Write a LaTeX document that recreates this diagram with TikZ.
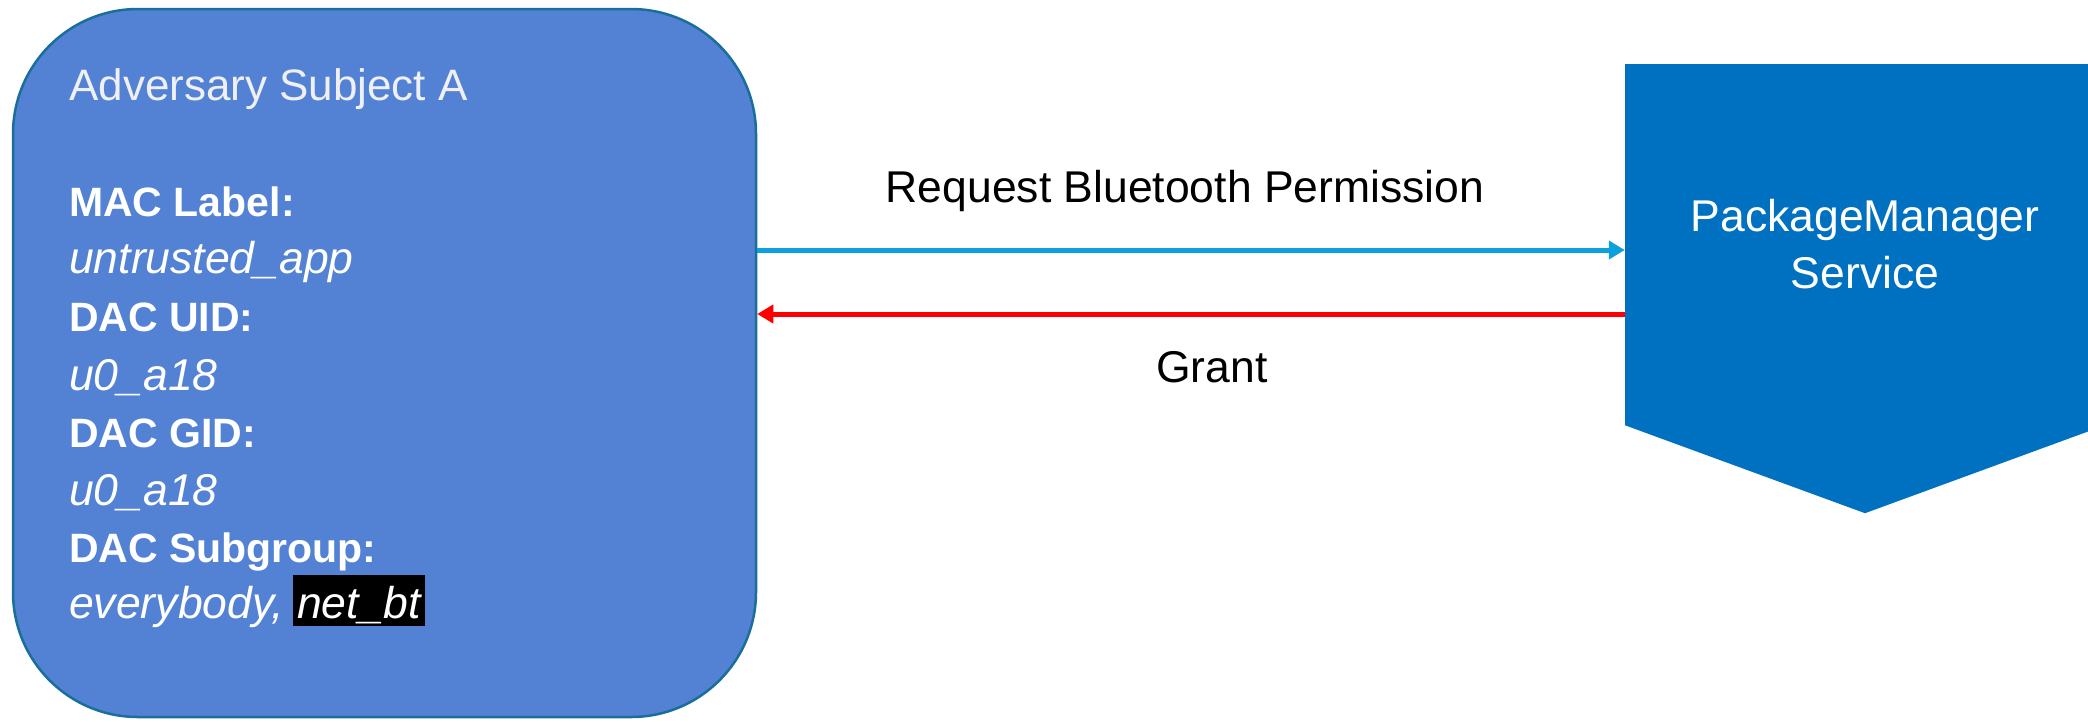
\documentclass[tikz,border=0pt]{standalone}
\usepackage{fontspec}
\setmainfont{Liberation Sans}
\usetikzlibrary{arrows.meta}
\definecolor{subjfill}{RGB}{83,130,212}
\definecolor{subjline}{RGB}{26,110,156}
\definecolor{reqblue}{RGB}{12,160,221}
\definecolor{pmblue}{RGB}{0,112,192}
\definecolor{titlegray}{RGB}{240,240,244}

\begin{document}
\begin{tikzpicture}[x=1pt,y=-1pt,
  subject/.style={draw=subjline, line width=2.5pt, fill=subjfill, rounded corners=125pt, minimum width=743pt, minimum height=708pt, inner sep=0pt},
  hdr/.style={anchor=base west, inner sep=0pt, text=white, font=\fontsize{41}{49}\selectfont\bfseries},
  val/.style={anchor=base west, inner sep=0pt, text=white, font=\fontsize{44.5}{53}\selectfont\itshape},
  msg/.style={anchor=base, font=\fontsize{44.5}{53}\selectfont},
  req/.style={reqblue, line width=5pt, -{Triangle[length=16pt,width=18pt]}},
  grant/.style={red, line width=5pt, -{Triangle[length=16pt,width=18pt]}}]
\useasboundingbox (0,0) rectangle (2088,721);
\clip (0,0) rectangle (2088,721);
\node[subject] (subj) at (384.5,363) {};
\node[val, text=titlegray, font=\fontsize{44}{53}\selectfont] (title) at (69,100) {Adversary Subject A};
\node[hdr] (mac) at (69,216) {MAC Label:};
\node[val] (macval) at (69,273) {untrusted\_app};
\node[hdr] (uid) at (69,331) {DAC UID:};
\node[val] (uidval) at (69,390) {u0\_a18};
\node[hdr] (gid) at (69,447) {DAC GID:};
\node[val] (gidval) at (69,505) {u0\_a18};
\node[hdr] (sgrp) at (69,562) {DAC Subgroup:};
\node[val] (sgrpval) at (69,618) {everybody,};
\node[val, fill=black, inner xsep=4pt, text height=43pt, text depth=8pt] (netbt) at (293,618) {net\_bt};
\node[fill=pmblue, minimum width=480pt, minimum height=361pt, text=white, align=center, font=\fontsize{44.5}{57}\selectfont] (pms) at (1865,244.5) {PackageManager\\Service};
\fill[pmblue] (pms.south west) -- (pms.south east) -- ([yshift=-88pt]pms.south) -- cycle;
\coordinate (reqy) at (0,250);
\coordinate (granty) at (0,314);
\draw[req] (subj.east |- reqy) -- (pms.west |- reqy);
\draw[grant] (pms.west |- granty) -- (subj.east |- granty);
\node[msg] (reqlbl) at (1185,202) {Request Bluetooth Permission};
\node[msg] (grantlbl) at (1212,382) {Grant};
\end{tikzpicture}
\end{document}
